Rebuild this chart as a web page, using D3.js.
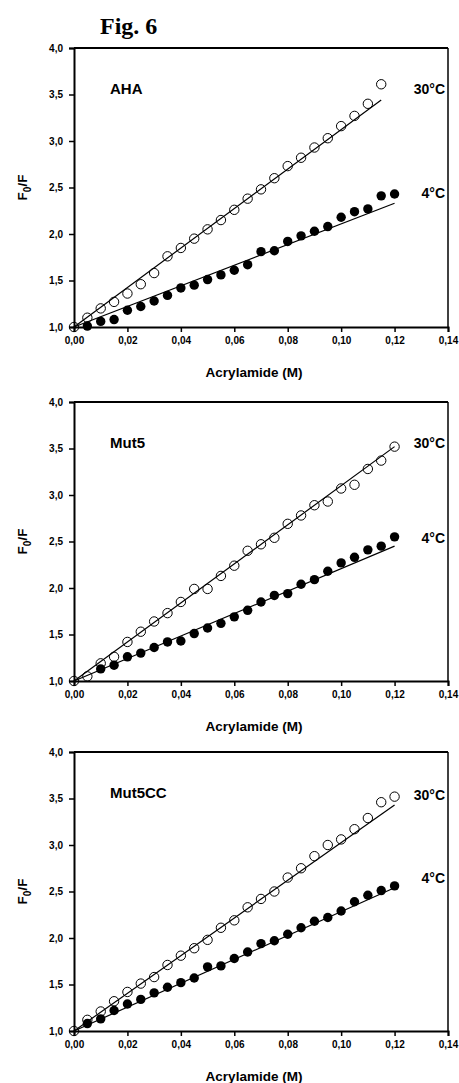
<!DOCTYPE html>
<html>
<head>
<meta charset="utf-8">
<script src="https://cdn.jsdelivr.net/npm/d3@7"></script>
<style>
  body { margin: 0; background: #fff; }
  svg { display: block; }
  .tick text { font-family: Arial, "Liberation Sans", sans-serif; font-weight: bold; font-size: 10px; }
  .lbl { font-family: Arial, "Liberation Sans", sans-serif; font-weight: bold; }
</style>
</head>
<body>
<script>
// acrylamide concentrations (M)
var conc30AHA = [0, 0.005, 0.01, 0.015, 0.02, 0.025, 0.03, 0.035, 0.04, 0.045, 0.05, 0.055, 0.06, 0.065, 0.07, 0.075, 0.08, 0.085, 0.09, 0.095, 0.10, 0.105, 0.11, 0.115];
var conc = [0, 0.005, 0.01, 0.015, 0.02, 0.025, 0.03, 0.035, 0.04, 0.045, 0.05, 0.055, 0.06, 0.065, 0.07, 0.075, 0.08, 0.085, 0.09, 0.095, 0.10, 0.105, 0.11, 0.115, 0.12];
var concFrom5 = conc.slice(1);
var concFrom10 = conc.slice(2);

// F0/F values
var aha30 = [1.00, 1.10, 1.20, 1.27, 1.36, 1.46, 1.58, 1.76, 1.85, 1.95, 2.05, 2.15, 2.26, 2.38, 2.48, 2.60, 2.73, 2.82, 2.93, 3.03, 3.16, 3.27, 3.40, 3.61];
var aha4 = [1.01, 1.06, 1.08, 1.18, 1.22, 1.28, 1.34, 1.42, 1.45, 1.51, 1.56, 1.61, 1.67, 1.81, 1.82, 1.92, 1.98, 2.03, 2.08, 2.18, 2.24, 2.27, 2.41, 2.43];
var mut5_30 = [1.00, 1.05, 1.19, 1.26, 1.42, 1.53, 1.64, 1.73, 1.85, 1.99, 1.99, 2.13, 2.24, 2.40, 2.47, 2.54, 2.69, 2.78, 2.89, 2.93, 3.07, 3.11, 3.28, 3.37, 3.52];
var mut5_4 = [1.13, 1.17, 1.26, 1.30, 1.36, 1.42, 1.43, 1.51, 1.57, 1.62, 1.69, 1.76, 1.85, 1.92, 1.94, 2.04, 2.09, 2.18, 2.27, 2.33, 2.41, 2.45, 2.55];
var mut5cc30 = [1.00, 1.12, 1.21, 1.32, 1.42, 1.51, 1.58, 1.71, 1.81, 1.89, 1.98, 2.11, 2.19, 2.33, 2.42, 2.50, 2.65, 2.75, 2.88, 3.00, 3.06, 3.17, 3.29, 3.46, 3.52];
var mut5cc4 = [1.08, 1.13, 1.22, 1.29, 1.34, 1.41, 1.47, 1.52, 1.57, 1.69, 1.70, 1.78, 1.85, 1.94, 1.97, 2.04, 2.11, 2.18, 2.22, 2.29, 2.39, 2.46, 2.51, 2.56];

// linear fits (start and end points)
var fitAHA30 = [[0, 1.0], [0.115, 3.44]];
var fitAHA4 = [[0, 1.0], [0.12, 2.33]];
var fitMut5_30 = [[0, 1.0], [0.12, 3.52]];
var fitMut5_4 = [[0, 1.0], [0.12, 2.45]];
var fitMut5CC30 = [[0, 1.0], [0.12, 3.43]];
var fitMut5CC4 = [[0, 1.0], [0.12, 2.54]];

var panelNames = ['AHA', 'Mut5', 'Mut5CC'];
var xTicks = [0, 0.02, 0.04, 0.06, 0.08, 0.10, 0.12, 0.14];
var yTicks = [1.0, 1.5, 2.0, 2.5, 3.0, 3.5, 4.0];

var panels = [
  { name: panelNames[0], top: 48, bottom: 327,
    open: { x: conc30AHA, y: aha30 }, filled: { x: concFrom5, y: aha4 },
    fitOpen: fitAHA30, fitFilled: fitAHA4, lab30: 94, lab4: 198 },
  { name: panelNames[1], top: 402, bottom: 681,
    open: { x: conc, y: mut5_30 }, filled: { x: concFrom10, y: mut5_4 },
    fitOpen: fitMut5_30, fitFilled: fitMut5_4, lab30: 448, lab4: 543 },
  { name: panelNames[2], top: 752, bottom: 1031,
    open: { x: conc, y: mut5cc30 }, filled: { x: concFrom5, y: mut5cc4 },
    fitOpen: fitMut5CC30, fitFilled: fitMut5CC4, lab30: 800, lab4: 883 }
];

var svg_width = 459;
var svg_height = 1083;
var left = 74, right = 448;

var svg = d3.select('body').append('svg')
  .attr('width', svg_width)
  .attr('height', svg_height);

svg.append('text')
  .attr('x', 100)
  .attr('y', 34)
  .style('font-family', '"Liberation Serif", "Times New Roman", serif')
  .style('font-weight', 'bold')
  .style('font-size', '24px')
  .text('Fig. 6');

var commaFmt = function(f) {
  return function(d) { return d3.format(f)(d).replace('.', ','); };
};

var x = d3.scaleLinear().domain([0, 0.14]).range([left, right]);

panels.forEach(function(p) {
  var y = d3.scaleLinear().domain([1, 4]).range([p.bottom, p.top]);
  var g = svg.append('g');

  // axes
  var xAxis = g.append('g')
    .attr('transform', 'translate(0,' + p.bottom + ')')
    .call(d3.axisBottom(x).tickValues(xTicks).tickFormat(commaFmt('.2f')).tickSize(5).tickPadding(5));
  var yAxis = g.append('g')
    .attr('transform', 'translate(' + left + ',0)')
    .call(d3.axisLeft(y).tickValues(yTicks).tickFormat(commaFmt('.1f')).tickSize(5).tickPadding(6));
  [xAxis, yAxis].forEach(function(a) {
    a.select('.domain').attr('stroke', '#000').attr('stroke-width', 2);
    a.selectAll('.tick line').attr('stroke', '#000').attr('stroke-width', 1.5);
    a.selectAll('.tick text').attr('fill', '#000');
  });

  // top and right frame
  g.append('line').attr('x1', left).attr('x2', right).attr('y1', p.top).attr('y2', p.top)
    .attr('stroke', '#000').attr('stroke-width', 2);
  g.append('line').attr('x1', right).attr('x2', right).attr('y1', p.top).attr('y2', p.bottom)
    .attr('stroke', '#000').attr('stroke-width', 1.5);

  // fit lines
  var line = d3.line().x(function(d) { return x(d[0]); }).y(function(d) { return y(d[1]); });
  [p.fitOpen, p.fitFilled].forEach(function(f) {
    g.append('path').attr('d', line(f)).attr('fill', 'none')
      .attr('stroke', '#000').attr('stroke-width', 1.2);
  });

  // filled (4 °C)
  g.selectAll('circle.filled')
    .data(p.filled.y)
    .enter()
    .append('circle')
    .attr('class', 'filled')
    .attr('cx', function(d, i) { return x(p.filled.x[i]); })
    .attr('cy', function(d) { return y(d); })
    .attr('r', 4.7)
    .attr('fill', '#000');

  // open (30 °C)
  g.selectAll('circle.open')
    .data(p.open.y)
    .enter()
    .append('circle')
    .attr('class', 'open')
    .attr('cx', function(d, i) { return x(p.open.x[i]); })
    .attr('cy', function(d) { return y(d); })
    .attr('r', 4.7)
    .attr('fill', 'none')
    .attr('stroke', '#000')
    .attr('stroke-width', 1);

  // labels
  g.append('text').attr('class', 'lbl').attr('x', 110).attr('y', p.top + 46)
    .style('font-size', '15px').text(p.name);
  g.append('text').attr('class', 'lbl').attr('x', 445).attr('y', p.lab30)
    .attr('text-anchor', 'end').style('font-size', '14px').text('30°C');
  g.append('text').attr('class', 'lbl').attr('x', 445).attr('y', p.lab4)
    .attr('text-anchor', 'end').style('font-size', '14px').text('4°C');

  g.append('text').attr('class', 'lbl')
    .attr('x', (left + right) / 2 - 7)
    .attr('y', p.bottom + 50)
    .attr('text-anchor', 'middle')
    .style('font-size', '13.5px')
    .text('Acrylamide (M)');

  var yl = g.append('text').attr('class', 'lbl')
    .attr('text-anchor', 'middle')
    .attr('transform', 'translate(27,' + ((p.top + p.bottom) / 2) + ') rotate(-90)')
    .style('font-size', '13.5px');
  yl.append('tspan').text('F');
  yl.append('tspan').attr('dy', 4).style('font-size', '10px').text('0');
  yl.append('tspan').attr('dy', -4).text('/F');
});
</script>
</body>
</html>
